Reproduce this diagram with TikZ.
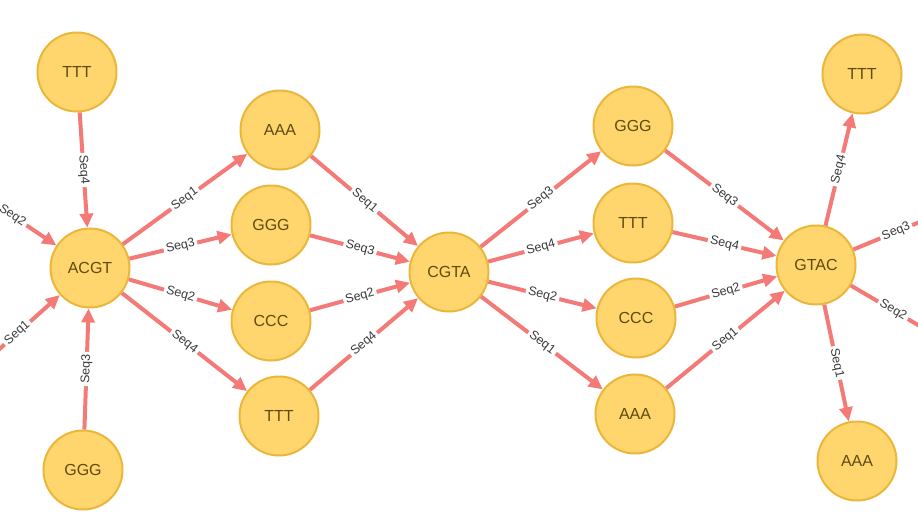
\documentclass[tikz,border=0pt]{standalone}
\usepackage{fontspec}
\setmainfont{Liberation Sans}
\usetikzlibrary{arrows.meta}
\definecolor{kmerfill}{HTML}{FFD56E}
\definecolor{kmerline}{HTML}{EBB73A}
\definecolor{kmertext}{HTML}{5F4B0F}
\definecolor{relline}{HTML}{F47A78}
\definecolor{seqtext}{HTML}{3A3A3A}

\begin{document}
\begin{tikzpicture}[x=1pt,y=1pt]
\tikzstyle{kmer}=[circle, draw=kmerline, fill=kmerfill, line width=2pt, minimum size=79pt, inner sep=0pt, text=kmertext, font=\fontsize{16}{16}\selectfont]
\tikzstyle{rel}=[draw=relline, line width=4pt, -{Triangle[length=14pt,width=13pt]}]
\tikzstyle{seq}=[sloped, midway, fill=white, inner sep=2.5pt, text=seqtext, font=\fontsize{12.5}{12.5}\selectfont]
\useasboundingbox (0,0) rectangle (918,-517);
\fill [white] (0,0) rectangle (918,-517);
\clip (0,0) rectangle (918,-517);
% left side
\node [kmer] (tttL) at (77,-72) {TTT};
\node [kmer] (acgt) at (90,-268) {ACGT};
\node [kmer] (gggL) at (83,-470) {GGG};
\coordinate (inSeq2) at (-32,-186);
\coordinate (inSeq1) at (-25,-371);
% first column
\node [kmer] (aaa1) at (280,-130) {AAA};
\node [kmer] (ggg1) at (271,-225) {GGG};
\node [kmer] (ccc1) at (271,-321) {CCC};
\node [kmer] (ttt1) at (279,-416) {TTT};
\node [kmer] (cgta) at (449,-272) {CGTA};
% second column
\node [kmer] (ggg2) at (633,-126) {GGG};
\node [kmer] (ttt2) at (633,-223) {TTT};
\node [kmer] (ccc2) at (636,-318) {CCC};
\node [kmer] (aaa2) at (635,-414) {AAA};
% right side
\node [kmer] (gtac) at (816,-265) {GTAC};
\node [kmer] (tttR) at (862,-74) {TTT};
\node [kmer] (aaaR) at (857,-461) {AAA};
\coordinate (outSeq3) at (939,-214);
\coordinate (outSeq2) at (935,-335);
% into ACGT
\draw [rel] (tttL) -- (acgt) node [seq] {Seq4};
\draw [rel] (gggL) -- (acgt) node [seq] {Seq3};
\draw [rel] (inSeq2) -- (acgt) node [seq] {Seq2};
\draw [rel] (inSeq1) -- (acgt) node [seq] {Seq1};
% ACGT to CGTA
\draw [rel] (acgt) -- (aaa1) node [seq] {Seq1};
\draw [rel] (acgt) -- (ggg1) node [seq] {Seq3};
\draw [rel] (acgt) -- (ccc1) node [seq] {Seq2};
\draw [rel] (acgt) -- (ttt1) node [seq] {Seq4};
\draw [rel] (aaa1) -- (cgta) node [seq] {Seq1};
\draw [rel] (ggg1) -- (cgta) node [seq] {Seq3};
\draw [rel] (ccc1) -- (cgta) node [seq] {Seq2};
\draw [rel] (ttt1) -- (cgta) node [seq] {Seq4};
% CGTA to GTAC
\draw [rel] (cgta) -- (ggg2) node [seq] {Seq3};
\draw [rel] (cgta) -- (ttt2) node [seq] {Seq4};
\draw [rel] (cgta) -- (ccc2) node [seq] {Seq2};
\draw [rel] (cgta) -- (aaa2) node [seq] {Seq1};
\draw [rel] (ggg2) -- (gtac) node [seq] {Seq3};
\draw [rel] (ttt2) -- (gtac) node [seq] {Seq4};
\draw [rel] (ccc2) -- (gtac) node [seq] {Seq2};
\draw [rel] (aaa2) -- (gtac) node [seq] {Seq1};
% out of GTAC
\draw [rel] (gtac) -- (tttR) node [seq] {Seq4};
\draw [rel] (gtac) -- (outSeq3) node [seq] {Seq3};
\draw [rel] (gtac) -- (outSeq2) node [seq] {Seq2};
\draw [rel] (gtac) -- (aaaR) node [seq] {Seq1};
\end{tikzpicture}
\end{document}
